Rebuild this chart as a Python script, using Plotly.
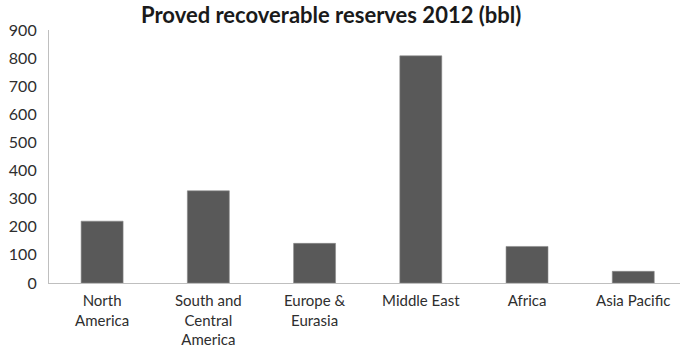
import plotly.graph_objects as go

categories = ["North<br>America", "South and<br>Central<br>America", "Europe &<br>Eurasia",
              "Middle East", "Africa", "Asia Pacific"]
reserves = [220, 328, 141, 808, 130, 41.5]
y_ticks = [0, 100, 200, 300, 400, 500, 600, 700, 800, 900]

FONT = "Lato, 'Open Sans', sans-serif"

fig = go.Figure(go.Bar(
    x=list(range(len(categories))),
    y=reserves,
    marker=dict(color="#595959", line=dict(color="#8a8a8a", width=0.6)),
    width=0.395,
))

fig.update_layout(
    width=680, height=361,
    margin=dict(l=49, r=0, t=30, b=78),
    paper_bgcolor="white", plot_bgcolor="white",
    title=dict(text="<b>Proved recoverable reserves 2012 (bbl)</b>",
               x=0.487, xanchor="center", y=0.958, yanchor="middle",
               font=dict(family=FONT, size=22, color="#1a1a1a")),
    showlegend=False,
    font=dict(family=FONT, size=16, color="#2e2e2e"),
)
fig.update_xaxes(
    tickmode="array", tickvals=list(range(len(categories))), ticktext=categories,
    range=[-0.5, 5.44], showline=True, linecolor="#bfbfbf", linewidth=1.2,
    ticks="", showgrid=False, zeroline=False, ticklabelstandoff=4,
    tickfont=dict(size=15), automargin=False,
)
fig.update_yaxes(
    range=[0, 900], tickvals=y_ticks, showline=True, linecolor="#bfbfbf", linewidth=1.2,
    ticks="", showgrid=False, zeroline=False, ticklabelstandoff=8,
    tickfont=dict(size=16), automargin=False,
)

fig.write_html("out.html", config={"displayModeBar": False},
               post_script="document.body.style.margin='0';")
